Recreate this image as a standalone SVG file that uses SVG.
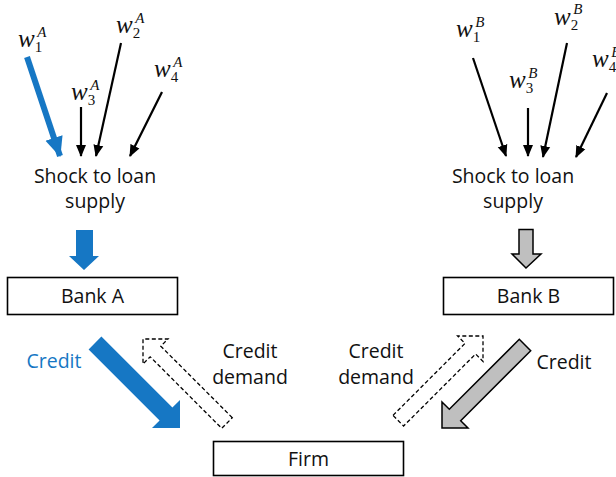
<svg xmlns="http://www.w3.org/2000/svg" width="616" height="477" viewBox="0 0 616 477">
<style>
.lbl{font-family:"Open Sans","Liberation Sans",sans-serif;font-size:19.5px;fill:#111;text-anchor:middle}
.blue{fill:#1677C4}
.w{font-family:"Liberation Serif","DejaVu Serif",serif;font-style:italic;font-size:25px;fill:#111}
.w .s{font-size:15px}
.w .d{font-size:15px;font-style:normal}
.box{fill:#fff;stroke:#000;stroke-width:1.6}
.thin{stroke:#000;stroke-width:2.2;fill:none}
.dash{fill:#fff;stroke:#000;stroke-width:1.3;stroke-dasharray:4 2.5}
</style>
<defs>
<marker id="ah" markerUnits="userSpaceOnUse" markerWidth="12" markerHeight="12" viewBox="0 0 12 12" refX="11" refY="6" orient="auto">
<path d="M0,1 L12,6 L0,11 Z" fill="#000"/>
</marker>
<marker id="ahb" markerUnits="userSpaceOnUse" markerWidth="20" markerHeight="20" viewBox="0 0 20 20" refX="19" refY="10" orient="auto">
<path d="M0,1 L20,10 L0,19 Z" fill="#1677C4"/>
</marker>
</defs>

<g id="labels-A">
<text class="w blue" x="18" y="47">w<tspan class="d" dy="5">1</tspan><tspan class="s" dx="-5" dy="-15">A</tspan></text>
<text class="w" x="116" y="33">w<tspan class="d" dy="5">2</tspan><tspan class="s" dx="-5" dy="-15">A</tspan></text>
<text class="w" x="71" y="100">w<tspan class="d" dy="5">3</tspan><tspan class="s" dx="-5" dy="-15">A</tspan></text>
<text class="w" x="154" y="77">w<tspan class="d" dy="5">4</tspan><tspan class="s" dx="-5" dy="-15">A</tspan></text>
</g>
<g id="labels-B">
<text class="w" x="456" y="37">w<tspan class="d" dy="5">1</tspan><tspan class="s" dx="-5" dy="-15">B</tspan></text>
<text class="w" x="554" y="25">w<tspan class="d" dy="5">2</tspan><tspan class="s" dx="-5" dy="-16">B</tspan></text>
<text class="w" x="509" y="88">w<tspan class="d" dy="5">3</tspan><tspan class="s" dx="-5" dy="-15">B</tspan></text>
<text class="w" x="592" y="67">w<tspan class="d" dy="5">4</tspan><tspan class="s" dx="-5" dy="-15">B</tspan></text>
</g>

<g id="shock-A">
<text class="lbl" x="95" y="183">Shock to loan</text>
<text class="lbl" x="95" y="208">supply</text>
</g>
<g id="shock-B">
<text class="lbl" x="513" y="183">Shock to loan</text>
<text class="lbl" x="513" y="208">supply</text>
</g>

<g id="bank-A">
<rect class="box" x="7.5" y="277.5" width="170" height="37"/>
<text class="lbl" x="92.5" y="303">Bank A</text>
</g>
<g id="bank-B">
<rect class="box" x="443.5" y="277.5" width="170" height="37"/>
<text class="lbl" x="528.5" y="303">Bank B</text>
</g>
<g id="firm">
<rect class="box" x="213.5" y="441.5" width="190" height="34"/>
<text class="lbl" x="308.5" y="466">Firm</text>
</g>

<g id="connectors">
<line x1="27" y1="57" x2="60" y2="156" stroke="#1677C4" stroke-width="6" marker-end="url(#ahb)"/>
<line class="thin" x1="81" y1="107" x2="81" y2="156" marker-end="url(#ah)"/>
<line class="thin" x1="121" y1="43" x2="96" y2="156" marker-end="url(#ah)"/>
<line class="thin" x1="162" y1="92" x2="130" y2="156" marker-end="url(#ah)"/>
<line class="thin" x1="473" y1="58" x2="506" y2="156" marker-end="url(#ah)"/>
<line class="thin" x1="528" y1="108" x2="528" y2="156" marker-end="url(#ah)"/>
<line class="thin" x1="567" y1="43" x2="543" y2="157" marker-end="url(#ah)"/>
<line class="thin" x1="607" y1="93" x2="576" y2="157" marker-end="url(#ah)"/>

<polygon fill="#1677C4" points="76,230 93,230 93,256 99,256 84,270 69,256 76,256"/>
<polygon fill="#BFBFBF" stroke="#000" stroke-width="1.5" points="519,229.5 533,229.5 533,254 541,254 526,268 512,254 519,254"/>

<polygon fill="#1677C4" points="88.6,349.4 159.6,420.4 152,428 180,428 180,400 172.4,407.6 101.4,336.6"/>
<polygon class="dash" points="232.3,417.7 160.8,346.2 168,339 143,339 143,364 150.2,356.8 221.7,428.3"/>
<polygon fill="#BFBFBF" stroke="#000" stroke-width="1.5" points="530.7,350.7 460.7,420.7 468,428 442,428 442,402 449.3,409.3 519.3,339.3"/>
<polygon class="dash" points="393,415.4 465,343.4 457.6,336 483,336 483,361.4 475.6,354 403.6,426"/>
</g>

<g id="edge-labels">
<text class="lbl blue" x="54" y="368">Credit</text>
<text class="lbl" x="250" y="358">Credit</text>
<text class="lbl" x="250" y="384">demand</text>
<text class="lbl" x="376" y="358">Credit</text>
<text class="lbl" x="376" y="384">demand</text>
<text class="lbl" x="564" y="369">Credit</text>
</g>
</svg>
